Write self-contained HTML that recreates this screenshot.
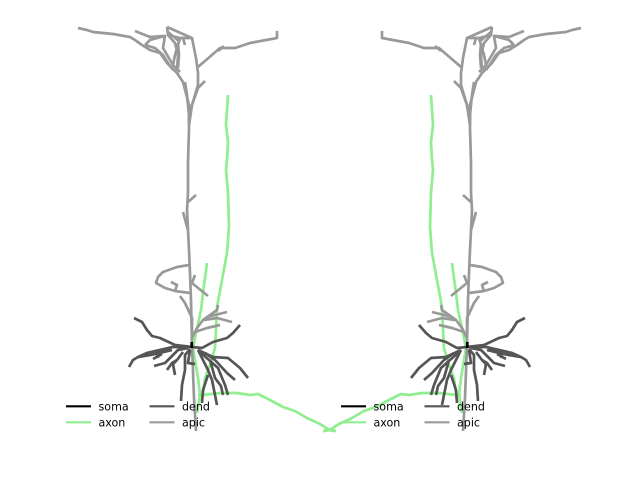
<!DOCTYPE html>
<html>
<head>
<meta charset="utf-8">
<title>Neuron morphology</title>
<style>
html,body{margin:0;padding:0;background:#fff;width:640px;height:480px;overflow:hidden}
svg{display:block}
text{font-family:"DejaVu Sans","Liberation Sans",sans-serif;font-size:11.1px;fill:#000}
</style>
</head>
<body>
<svg id="chart" xmlns="http://www.w3.org/2000/svg" width="640" height="480" viewBox="0 0 640 480">
  <g id="panels"></g>
  <g>
    <line x1="66" x2="91" y1="406.3" y2="406.3" stroke="#000" stroke-width="2.1"/>
    <text x="98.5" y="410.5">soma</text>
    <line x1="149.5" x2="174.5" y1="406.3" y2="406.3" stroke="#555" stroke-width="2.1"/>
    <text x="182" y="410.5">dend</text>
    <line x1="66" x2="91" y1="422.3" y2="422.3" stroke="#90ee90" stroke-width="2.1"/>
    <text x="98.5" y="426.5">axon</text>
    <line x1="149.5" x2="174.5" y1="422.3" y2="422.3" stroke="#999" stroke-width="2.1"/>
    <text x="182" y="426.5">apic</text>
  </g>
  <g>
    <line x1="341" x2="366" y1="406.3" y2="406.3" stroke="#000" stroke-width="2.1"/>
    <text x="373.5" y="410.5">soma</text>
    <line x1="424.5" x2="449.5" y1="406.3" y2="406.3" stroke="#555" stroke-width="2.1"/>
    <text x="457" y="410.5">dend</text>
    <line x1="341" x2="366" y1="422.3" y2="422.3" stroke="#90ee90" stroke-width="2.1"/>
    <text x="373.5" y="426.5">axon</text>
    <line x1="424.5" x2="449.5" y1="422.3" y2="422.3" stroke="#999" stroke-width="2.1"/>
    <text x="457" y="426.5">apic</text>
  </g>
</svg>
<script>
const axonBranches = [
  [[38,253],[37,238],[36,223],[38,206],[37,188],[36,178],[38,155],[39,121],[37,95],[32,68],[27,41],[26,18],[25,0],[20,-17],[15,-30],[13,-47],[8,-47]],
  [[13,-47],[30,-45],[47,-45],[60,-47],[68,-46],[80,-52],[93,-59],[105,-63],[117,-70],[130,-76],[139.5,-82],[133,-83]],
  [[139.5,-82],[145,-83]],
  [[17,85],[13,55],[11,38],[5,10],[3,0],[8,-30],[10,-47],[7,-65]]
];
const apicBranches = [
  [[6,-83],[4,-50],[2,3],[1,48],[0,75],[-1,98],[-2,118],[-3,138],[-2,155],[-2,185],[-1,220],[-1,233]],
  [[-1,223],[2,243],[8,263],[8,275],[6,290],[2,310],[-23,321]],
  [[-112,320],[-103,318],[-97,316],[-77,314],[-60,311],[-55,308],[-48,303],[-40,298],[-30,295],[-23,285],[-13,275],[-7,266],[-1,243],[-1,223]],
  [[-55,317],[-40,311],[-25,312]],
  [[-45,303],[-40,308],[-25,312],[-27,300],[-17,283],[-10,276]],
  [[-45,303],[-35,300],[-27,293],[-22,285],[-17,278]],
  [[-23,321],[-22,313],[-15,305],[-12,293],[-13,278]],
  [[-10,310],[-15,293],[-17,283]],
  [[-7,310],[-5,303]],
  [[-22,313],[-10,310],[2,310]],
  [[-12,305],[-11,293],[-12,280]],
  [[-22,316],[-10,306]],
  [[-5,266],[-3,253],[-1,233]],
  [[15,267],[8,260],[2,243],[0,233]],
  [[8,281],[30,300],[45,300],[60,305],[87,310],[87,317]],
  [[28,297],[34,302]],
  [[6,153],[-2,146]],
  [[-7,136],[-4,125],[-2,118]],
  [[-1,83],[-13,81],[-27,76],[-32,71],[-34,65],[-25,60],[-15,57],[0,55]],
  [[-19,66],[-13,63],[-15,57]],
  [[2,65],[18,52]],
  [[5,73],[2,65]],
  [[-10,52],[-5,45],[2,30],[2,10]],
  [[28,43],[27,38],[13,28],[7,20],[2,10]],
  [[17,31],[37,36]],
  [[14,28],[27,30],[42,26]],
  [[5,16],[17,20],[30,23]]
];
const dendBranches = [
  [[-56,30],[-48,26],[-43,18],[-38,12],[-30,10],[-15,3],[2,1]],
  [[-61,-19],[-57,-12],[-52,-9],[-43,-5],[-30,-2],[-17,1],[0,1]],
  [[-52,-9],[-40,-7],[-30,-5],[-18,-2]],
  [[-37,-11],[-28,-6]],
  [[-32,-10],[-33,-4],[-20,-1]],
  [[-36,-18],[-25,-15],[-20,-10],[-12,-2],[-2,0]],
  [[-23,-22],[-18,-15],[-13,-12],[-7,-4]],
  [[-15,-27],[-17,-16],[-13,-12]],
  [[-9,-53],[-8,-37],[-5,-22],[-5,-7],[0,-1]],
  [[0,-2],[-2,-15],[5,-16]],
  [[50,23],[43,15],[37,10],[23,6],[12,0],[2,1]],
  [[58,-30],[50,-20],[38,-10],[23,-9],[8,-2]],
  [[45,-32],[37,-25],[25,-12],[15,-5]],
  [[38,-47],[35,-37],[28,-20],[10,-4]],
  [[33,-47],[31,-38],[25,-30],[20,-12]],
  [[27,-57],[25,-47],[22,-32],[18,-22],[8,-2]],
  [[12,-55],[13,-42],[18,-27]]
];
const somaBranches = [
  [[1.7,6],[1.7,0]]
];
const seriesNames = ['axon', 'apic', 'dend', 'soma'];
const seriesColors = ['#90ee90', '#999999', '#555555', '#000000'];
const seriesData = [axonBranches, apicBranches, dendBranches, somaBranches];

const svgNS = 'http://www.w3.org/2000/svg';
function xLeft(v) { return 190 + v; }
function xRight(v) { return 469 - v; }
function yAxis(v) { return 348 - v; }

function drawPanel(panelName, xAxis) {
  const panel = document.createElementNS(svgNS, 'g');
  
  
  seriesData.forEach(function (branches, s) {
    branches.forEach(function (branch) {
      const line = document.createElementNS(svgNS, 'polyline');
      
      
      line.setAttribute('points', branch.map(function (p) {
        return xAxis(p[0]) + ',' + yAxis(p[1]);
      }).join(' '));
      line.setAttribute('fill', 'none');
      line.setAttribute('stroke', seriesColors[s]);
      line.setAttribute('stroke-width', '2.7');
      line.setAttribute('stroke-linejoin', 'round');
      panel.appendChild(line);
    });
  });
  document.getElementById('panels').appendChild(panel);
}
drawPanel('left-neuron', xLeft);
drawPanel('right-neuron', xRight);
</script>
</body>
</html>
